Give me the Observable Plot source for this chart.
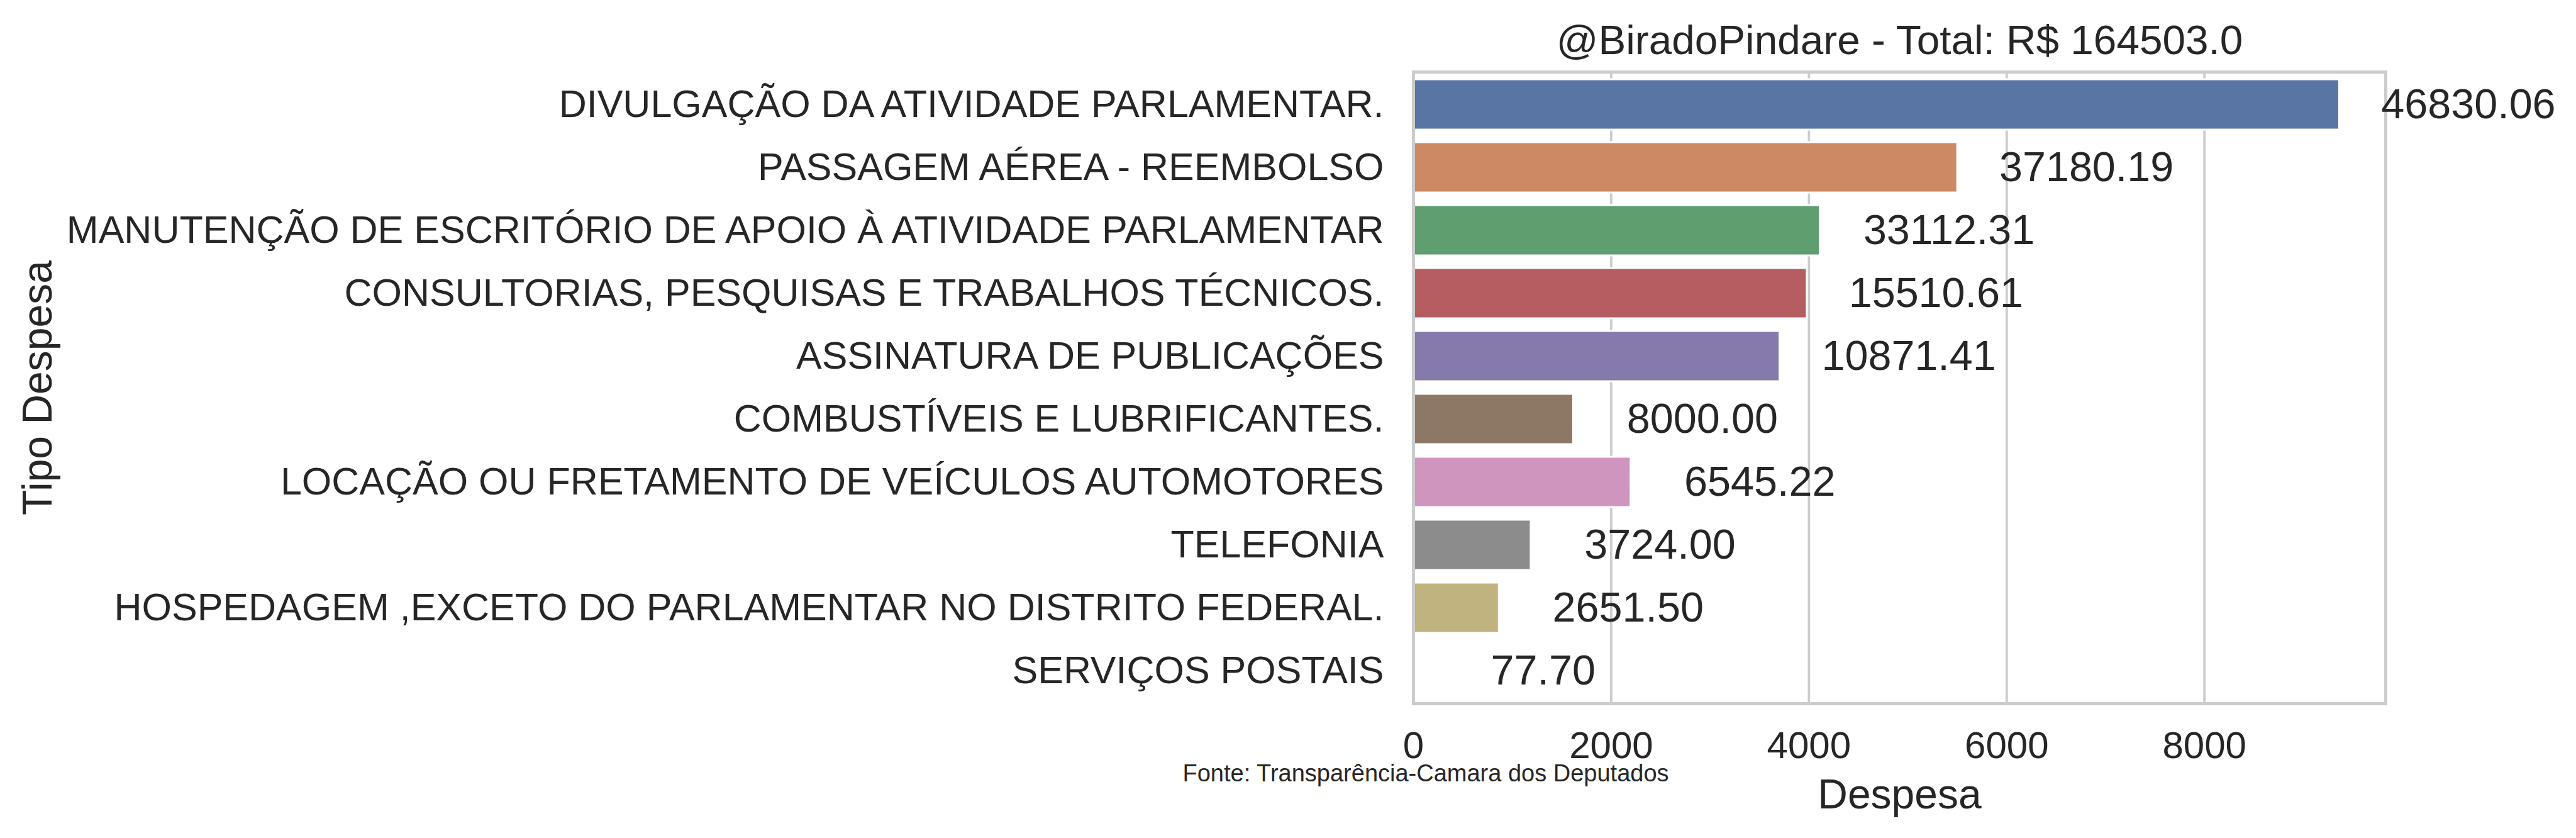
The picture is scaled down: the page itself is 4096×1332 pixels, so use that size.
<!DOCTYPE html>
<html>
<head>
<meta charset="utf-8">
<script src="https://cdn.jsdelivr.net/npm/d3@7"></script>
<script src="https://cdn.jsdelivr.net/npm/@observablehq/plot@0.6"></script>
<style>
html, body { margin: 0; padding: 0; background: #ffffff; }
#chart svg { display: block; }
</style>
</head>
<body>
<div id="chart"></div>
<script>
// ---- data ----
const categories = [
  "DIVULGAÇÃO DA ATIVIDADE PARLAMENTAR.",
  "PASSAGEM AÉREA - REEMBOLSO",
  "MANUTENÇÃO DE ESCRITÓRIO DE APOIO À ATIVIDADE PARLAMENTAR",
  "CONSULTORIAS, PESQUISAS E TRABALHOS TÉCNICOS.",
  "ASSINATURA DE PUBLICAÇÕES",
  "COMBUSTÍVEIS E LUBRIFICANTES.",
  "LOCAÇÃO OU FRETAMENTO DE VEÍCULOS AUTOMOTORES",
  "TELEFONIA",
  "HOSPEDAGEM ,EXCETO DO PARLAMENTAR NO DISTRITO FEDERAL.",
  "SERVIÇOS POSTAIS"
];
const barValues = [9366, 5503, 4113, 3981, 3706, 1618, 2199, 1189, 867, 8];
const labelValues = [46830.06, 37180.19, 33112.31, 15510.61, 10871.41, 8000.00, 6545.22, 3724.00, 2651.50, 77.70];
const barColors = ["#5975a4", "#cc8963", "#5f9e6e", "#b55d60", "#857aab", "#8d7866", "#d095bf", "#8c8c8c", "#c1b37f", "#71aec0"];
const xTicks = [0, 2000, 4000, 6000, 8000];
const xMax = 9834;
const titleText = "@BiradoPindare - Total: R$ 164503.0";
const xLabel = "Despesa";
const yLabel = "Tipo Despesa";
const captionText = "Fonte: Transparência-Camara dos Deputados";

// ---- layout ----
const W = 4096, H = 1332;
const ML = 2247, MR = 303, MT = 114, MB = 214;
const FONT = "'Liberation Sans', Arial, Helvetica, sans-serif";
const INK = "#262626";
const fmt = d3.format(".2f");

const data = categories.map((c, i) => ({tipo: c, despesa: barValues[i], label: labelValues[i]}));

const chart = Plot.plot({
  width: W,
  height: H,
  marginLeft: ML,
  marginRight: MR,
  marginTop: MT,
  marginBottom: MB,
  style: {fontFamily: FONT, color: INK, background: "#ffffff", overflow: "visible"},
  x: {domain: [0, xMax], label: null},
  y: {domain: categories, paddingInner: 0.2, paddingOuter: 0.1, label: null},
  color: {domain: categories, range: barColors},
  marks: [
    Plot.gridX(xTicks, {stroke: "#cccccc", strokeOpacity: 1, strokeWidth: 3.8}),
    Plot.barX(data, {x: "despesa", y: "tipo", fill: "tipo", stroke: "#ffffff", strokeWidth: 3}),
    Plot.frame({stroke: "#cccccc", strokeWidth: 5}),
    Plot.axisX(xTicks, {tickSize: 0, tickPadding: 44, fontSize: 60, label: null, tickFormat: d => String(d)}),
    Plot.axisY({tickSize: 0, tickPadding: 47, fontSize: 61, label: null}),
    Plot.text(data, {x: "despesa", y: "tipo", text: d => fmt(d.label), dx: 205, fontSize: 66.5, textAnchor: "middle", lineAnchor: "middle", fill: INK}),
    Plot.text([titleText], {text: d => d, frameAnchor: "top", textAnchor: "middle", lineAnchor: "bottom", dy: 85.6 - MT, fontSize: 65.7, fill: INK}),
    Plot.text([xLabel], {text: d => d, frameAnchor: "bottom", textAnchor: "middle", lineAnchor: "bottom", dy: 1284 - (H - MB), fontSize: 66, fill: INK}),
    Plot.text([yLabel], {text: d => d, frameAnchor: "left", textAnchor: "middle", rotate: -90, lineAnchor: "bottom", dx: 81.5 - ML, fontSize: 66, fill: INK}),
    Plot.text([captionText], {text: d => d, frameAnchor: "bottom-left", textAnchor: "start", lineAnchor: "bottom", dx: 1880 - ML, dy: 1241 - (H - MB), fontSize: 38, fill: INK})
  ]
});

document.getElementById("chart").appendChild(chart);
</script>
</body>
</html>
